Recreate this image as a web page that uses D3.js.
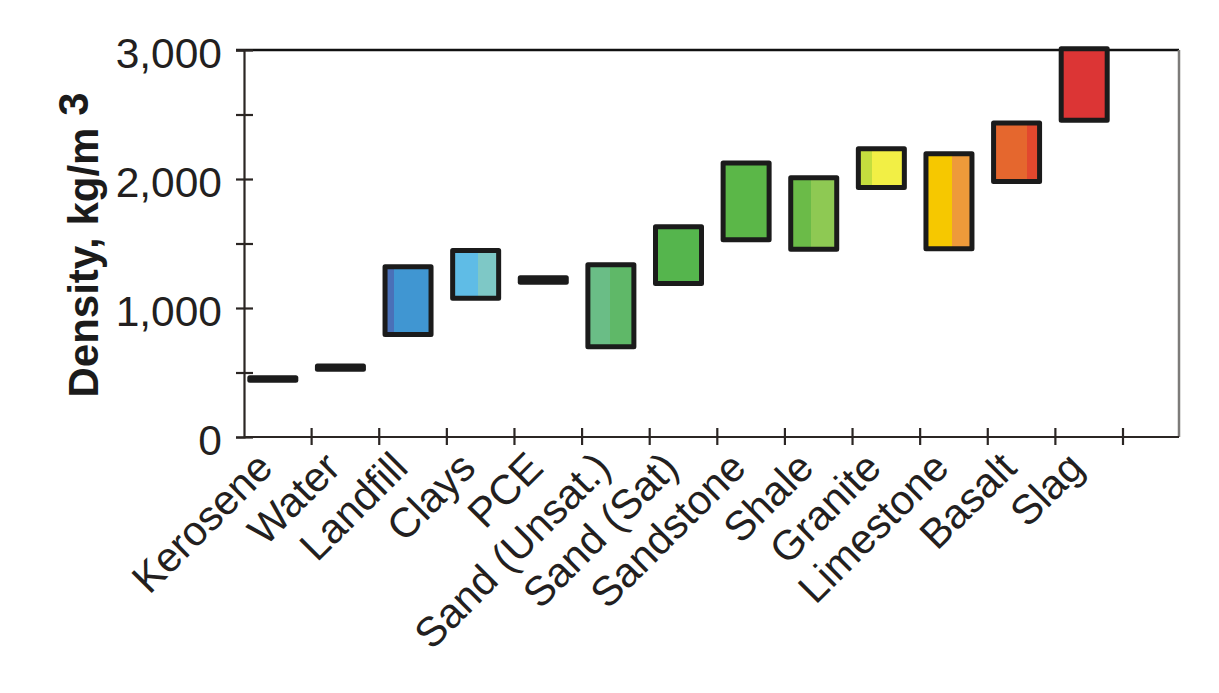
<!DOCTYPE html>
<html>
<head>
<meta charset="utf-8">
<script src="https://cdn.jsdelivr.net/npm/d3@7"></script>
<style>
  body { margin: 0; background: #fff; }
  svg { display: block; }
</style>
</head>
<body>
<svg width="1219" height="693"></svg>
<script>
// density ranges (kg/m3)
const categories = ["Kerosene", "Water", "Landfill", "Clays", "PCE", "Sand (Unsat.)",
  "Sand (Sat)", "Sandstone", "Shale", "Granite", "Limestone", "Basalt", "Slag"];
const densityLow  = [440, 525,  795, 1075, 1200,  700, 1190, 1530, 1455, 1935, 1460, 1980, 2455];
const densityHigh = [460, 550, 1320, 1445, 1235, 1335, 1630, 2125, 2010, 2235, 2195, 2435, 3010];
const yTicks = [0, 500, 1000, 1500, 2000, 2500, 3000];

// two-tone fills (left colour, right colour, where the split sits)
const fillLeft  = ["#1b1b1b", "#1b1b1b", "#4a70b8", "#5fbce6", "#1b1b1b", "#6abd86",
  "#55b54d", "#5bb748", "#6bbb48", "#c4dd3e", "#f6c800", "#e5672e", "#dc3535"];
const fillRight = ["#1b1b1b", "#1b1b1b", "#4096d2", "#7ec8c6", "#1b1b1b", "#5fb868",
  "#55b54d", "#5bb748", "#8ec953", "#f2ef45", "#ee9a3a", "#e2482e", "#dc3535"];
const fillSplit = [0.5, 0.5, 0.2, 0.55, 0.5, 0.48, 0.5, 0.5, 0.44, 0.29, 0.57, 0.73, 0.5];

const data = categories.map((c, i) => ({
  name: c, lo: densityLow[i], hi: densityHigh[i],
  left: fillLeft[i], right: fillRight[i], split: fillSplit[i]
}));

const plotLeft = 244, plotTop = 50, plotBottom = 437, frameRight = 1179;
const font = "'Liberation Sans', Arial, sans-serif";

const svg = d3.select("svg");

const x = d3.scaleBand()
    .domain(categories)
    .range([plotLeft, 1123]);

const y = d3.scaleLinear()
    .domain([0, 3000])
    .range([plotBottom, plotTop]);

// gradients for the split fills
const defs = svg.append("defs");
const grad = defs.selectAll("linearGradient")
    .data(data)
    .join("linearGradient")
    .attr("id", (d, i) => "g" + i)
    .attr("x1", 0).attr("x2", 1).attr("y1", 0).attr("y2", 0);
grad.append("stop").attr("offset", d => d.split).attr("stop-color", d => d.left);
grad.append("stop").attr("offset", d => d.split).attr("stop-color", d => d.right);

// frame: top and right
svg.append("line")
    .attr("x1", plotLeft - 8).attr("x2", frameRight)
    .attr("y1", plotTop).attr("y2", plotTop)
    .attr("stroke", "#111").attr("stroke-width", 2.5);
svg.append("line")
    .attr("x1", frameRight).attr("x2", frameRight)
    .attr("y1", plotTop).attr("y2", plotBottom)
    .attr("stroke", "#7d7b79").attr("stroke-width", 2.5);

// y axis
const yAxis = svg.append("g")
    .attr("transform", `translate(${plotLeft},0)`)
    .call(d3.axisLeft(y)
      .tickValues(yTicks)
      .tickFormat(d => d % 1000 === 0 ? d3.format(",")(d) : "")
      .tickSize(8)
      .tickPadding(14));
yAxis.select(".domain").attr("stroke", "#2b2624").attr("stroke-width", 2.2);
yAxis.selectAll(".tick line").attr("x1", 9).attr("stroke", "#2b2624").attr("stroke-width", 2.2);
yAxis.selectAll(".tick text")
    .attr("font-family", font)
    .attr("font-size", 42.5)
    .attr("fill", "#231f20")
    .attr("dy", "0.42em");

// x axis
svg.append("line")
    .attr("x1", plotLeft).attr("x2", frameRight)
    .attr("y1", plotBottom).attr("y2", plotBottom)
    .attr("stroke", "#2b2624").attr("stroke-width", 2.2);
svg.append("g")
    .selectAll("line")
    .data(categories)
    .join("line")
    .attr("x1", d => x(d) + x.step())
    .attr("x2", d => x(d) + x.step())
    .attr("y1", plotBottom - 9)
    .attr("y2", plotBottom + 8)
    .attr("stroke", "#2b2624").attr("stroke-width", 2.2);

const barW = 46;
const barCenter = d => x(d) + x.bandwidth() / 2 - 5;

svg.append("g")
    .selectAll("text")
    .data(categories)
    .join("text")
    .attr("transform", d => `translate(${barCenter(d) + 2},470) rotate(-45)`)
    .attr("text-anchor", "end")
    .attr("font-family", font)
    .attr("font-size", 41.5)
    .attr("fill", "#231f20")
    .text(d => d);

// range bars
svg.append("g")
    .selectAll("rect")
    .data(data)
    .join("rect")
    .attr("x", d => barCenter(d.name) - barW / 2)
    .attr("width", barW)
    .attr("y", d => y(d.hi))
    .attr("height", d => y(d.lo) - y(d.hi))
    .attr("fill", (d, i) => `url(#g${i})`)
    .attr("stroke", "#1b1b1b")
    .attr("stroke-width", 5)
    .attr("stroke-linejoin", "round");

// y title
const title = svg.append("text")
    .attr("transform", "translate(98,245) rotate(-90)")
    .attr("text-anchor", "middle")
    .attr("font-family", font)
    .attr("font-weight", "bold")
    .attr("font-size", 42)
    .attr("fill", "#1b1b1b");
title.append("tspan").text("Density, kg/m");
title.append("tspan").attr("dy", "-0.25em").text(" 3");
</script>
</body>
</html>
